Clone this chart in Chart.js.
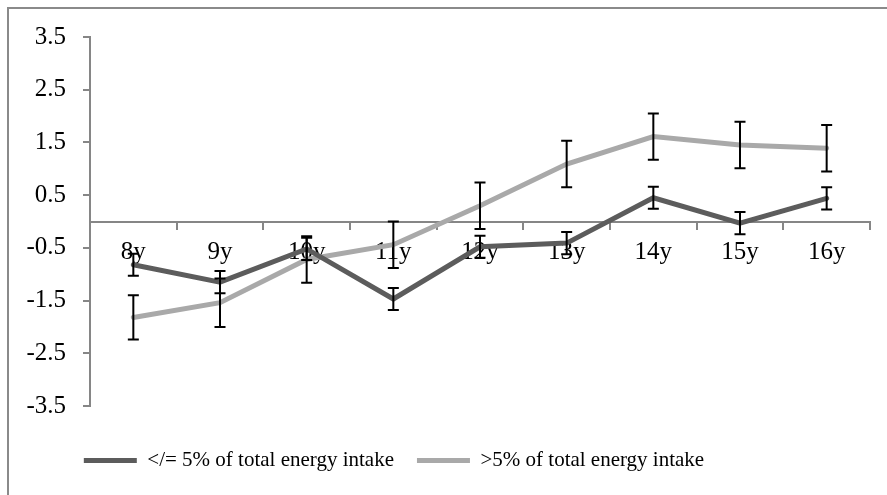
<!DOCTYPE html>
<html>
<head>
<meta charset="utf-8">
<script src="https://cdn.jsdelivr.net/npm/chart.js@4/dist/chart.umd.min.js"></script>
<style>
  html, body { margin: 0; padding: 0; background: #fff; }
  #wrap { width: 887px; height: 495px; position: relative; }
</style>
</head>
<body>
<div id="wrap"><canvas id="myChart" width="887" height="495"></canvas></div>
<script>
// データ
const ages = ['8y', '9y', '10y', '11y', '12y', '13y', '14y', '15y', '16y'];
const lowLabel = '</= 5% of total energy intake';
const highLabel = '>5% of total energy intake';
const lowValues = [-0.82, -1.15, -0.52, -1.47, -0.48, -0.41, 0.45, -0.03, 0.44];
const lowErrors = [0.21, 0.21, 0.21, 0.21, 0.21, 0.21, 0.21, 0.21, 0.21];
const highValues = [-1.82, -1.54, -0.72, -0.44, 0.30, 1.09, 1.61, 1.45, 1.39];
const highErrors = [0.42, 0.46, 0.44, 0.44, 0.44, 0.44, 0.44, 0.44, 0.44];
const yTicks = [-3.5, -2.5, -1.5, -0.5, 0.5, 1.5, 2.5, 3.5];

const FONT = "'Liberation Serif', 'Times New Roman', serif";
const AXIS = '#868686';

// 外枠（上と左だけ見えている）
const framePlugin = {
  id: 'frame',
  beforeDraw(chart) {
    const ctx = chart.ctx;
    ctx.save();
    ctx.strokeStyle = '#8a8a8a';
    ctx.lineWidth = 2;
    ctx.beginPath();
    ctx.moveTo(8, chart.height);
    ctx.lineTo(8, 8);
    ctx.lineTo(chart.width, 8);
    ctx.stroke();
    ctx.restore();
  }
};

// エラーバー
const errorBarPlugin = {
  id: 'errorBars',
  afterDatasetsDraw(chart) {
    const ctx = chart.ctx;
    const x = chart.scales.x, y = chart.scales.y;
    ctx.save();
    ctx.strokeStyle = '#000';
    ctx.lineWidth = 2;
    chart.data.datasets.forEach(ds => {
      ds.errors.forEach((e, i) => {
        const px = x.getPixelForValue(i);
        const top = y.getPixelForValue(ds.data[i] + e);
        const bot = y.getPixelForValue(ds.data[i] - e);
        ctx.beginPath();
        ctx.moveTo(px, top); ctx.lineTo(px, bot);
        ctx.moveTo(px - 5.5, top); ctx.lineTo(px + 5.5, top);
        ctx.moveTo(px - 5.5, bot); ctx.lineTo(px + 5.5, bot);
        ctx.stroke();
      });
    });
    ctx.restore();
  }
};

// 凡例の位置を少しずらす
const legendShift = {
  id: 'legendShift',
  afterLayout(chart) {
    const lg = chart.legend;
    const dx = -41, dy = 21;
    lg.left += dx; lg.right += dx;
    lg.top += dy; lg.bottom += dy;
  }
};

const ctx = document.getElementById('myChart');
new Chart(ctx, {
  type: 'line',
  data: {
    labels: ages,
    datasets: [{
      label: lowLabel,
      data: lowValues,
      errors: lowErrors,
      borderColor: '#5c5c5c',
      backgroundColor: '#5c5c5c',
      borderWidth: 5,
      borderCapStyle: 'round',
      pointRadius: 0,
      pointStyle: 'line',
      tension: 0
    }, {
      label: highLabel,
      data: highValues,
      errors: highErrors,
      borderColor: '#a9a9a9',
      backgroundColor: '#a9a9a9',
      borderWidth: 5,
      borderCapStyle: 'round',
      pointRadius: 0,
      pointStyle: 'line',
      tension: 0
    }]
  },
  options: {
    responsive: false,
    animation: false,
    layout: { padding: { left: 0, right: 17, top: 37, bottom: 35 } },
    plugins: {
      legend: {
        position: 'bottom',
        labels: {
          usePointStyle: true,
          pointStyleWidth: 53,
          padding: 23,
          color: '#000',
          font: { family: FONT, size: 21 }
        }
      },
      tooltip: { enabled: false }
    },
    scales: {
      x: {
        position: { y: 0 },
        offset: true,
        grid: { offset: true, drawOnChartArea: false, tickLength: 7, color: AXIS, lineWidth: 2 },
        border: { color: AXIS, width: 2 },
        ticks: { color: '#000', padding: 9, maxRotation: 0, font: { family: FONT, size: 25 } }
      },
      y: {
        min: -3.5,
        max: 3.5,
        afterFit(scale) { scale.width = 90; },
        afterBuildTicks(scale) { scale.ticks = yTicks.map(v => ({ value: v })); },
        grid: { drawOnChartArea: false, tickLength: 7, color: AXIS, lineWidth: 2 },
        border: { color: AXIS, width: 2 },
        ticks: {
          color: '#000',
          padding: 17,
          font: { family: FONT, size: 25 },
          callback: v => v.toFixed(1)
        }
      }
    }
  },
  plugins: [framePlugin, errorBarPlugin, legendShift]
});
</script>
</body>
</html>
